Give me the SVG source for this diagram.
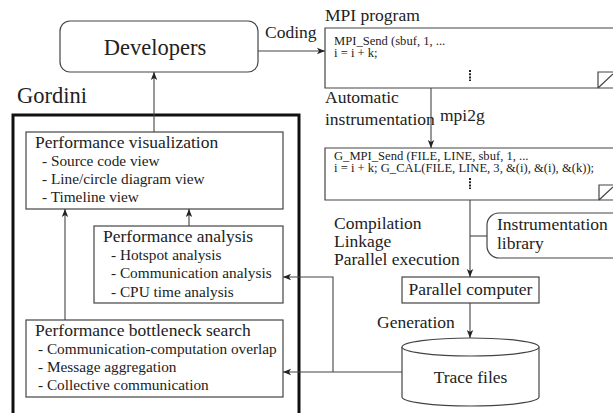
<svg xmlns="http://www.w3.org/2000/svg" width="613" height="413" viewBox="0 0 613 413">
  <defs>
    <style>
      .code { font-family: Liberation Serif, serif; font-size: 12.6px; fill: #222; }
      .title { font-family: Liberation Serif, serif; font-size: 17.5px; fill: #222; }
      .item { font-family: Liberation Serif, serif; font-size: 15.3px; fill: #222; }
      .box { fill: #fff; stroke: #444; stroke-width: 1.2; }
      .frame { fill: none; stroke: #111; stroke-width: 3; }
      .conn { fill: none; stroke: #444; stroke-width: 1.1; }
      .dots { stroke: #222; stroke-width: 2; stroke-dasharray: 2 1.2; }
    </style>
    <marker id="arrow" viewBox="0 0 10 10" refX="10" refY="5" markerWidth="8" markerHeight="8" markerUnits="userSpaceOnUse" orient="auto">
      <path d="M0,1 L10,5 L0,9 L2.5,5 Z" fill="#222"/>
    </marker>
  </defs>

  <!-- Developers -->
  <g id="developers">
    <rect class="box" x="60" y="21" width="198" height="51" rx="10" stroke-width="1.6"/>
    <text class="title" x="155" y="55" text-anchor="middle" style="font-size:22.5px">Developers</text>
  </g>

  <!-- Gordini frame -->
  <g id="gordini">
    <text class="title" x="17" y="103" style="font-size:22.5px">Gordini</text>
    <rect class="frame" x="13" y="115" width="286" height="310"/>
  </g>

  <g id="perf-visualization">
    <rect class="box" x="26" y="132" width="257" height="77"/>
    <text class="title" x="35" y="148">Performance visualization</text>
    <text class="item" x="42" y="166">- Source code view</text>
    <text class="item" x="42" y="184">- Line/circle diagram view</text>
    <text class="item" x="42" y="202">- Timeline view</text>
  </g>

  <g id="perf-analysis">
    <rect class="box" x="94" y="226" width="189" height="77"/>
    <text class="title" x="103" y="242">Performance analysis</text>
    <text class="item" x="111" y="260">- Hotspot analysis</text>
    <text class="item" x="111" y="278">- Communication analysis</text>
    <text class="item" x="111" y="297">- CPU time analysis</text>
  </g>

  <g id="bottleneck-search">
    <rect class="box" x="26" y="320" width="257" height="77"/>
    <text class="title" x="35" y="336">Performance bottleneck search</text>
    <text class="item" x="38" y="354">- Communication-computation overlap</text>
    <text class="item" x="38" y="372">- Message aggregation</text>
    <text class="item" x="38" y="390">- Collective communication</text>
  </g>

  <!-- MPI program -->
  <g id="mpi-program">
    <text class="title" x="325" y="21">MPI program</text>
    <path class="box" d="M325,28 H620 V88 H325 Z"/>
    <path class="box" d="M598,88 V72 H620 M598,88 L613,74"/>
    <text class="code" x="334" y="45">MPI_Send (sbuf, 1, ...</text>
    <text class="code" x="334" y="57">i = i + k;</text>
    <line class="dots" x1="470" y1="70" x2="470" y2="81"/>
  </g>

  <!-- Instrumented program -->
  <g id="instrumented-program">
    <path class="box" d="M325,148 H620 V200 H325 Z"/>
    <path class="box" d="M599,200 V185 H620 M599,200 L613,187"/>
    <text class="code" x="334" y="160">G_MPI_Send (FILE, LINE, sbuf, 1, ...</text>
    <text class="code" x="334" y="172">i = i + k; G_CAL(FILE, LINE, 3, &amp;(i), &amp;(i), &amp;(k));</text>
    <line class="dots" x1="470" y1="178" x2="470" y2="189"/>
  </g>

  <g id="instrumentation-library">
    <rect class="box" x="487" y="213" width="140" height="45" rx="12"/>
    <text class="title" x="497" y="230">Instrumentation</text>
    <text class="title" x="497" y="249">library</text>
  </g>

  <g id="parallel-computer">
    <rect class="box" x="402" y="277" width="137" height="26"/>
    <text class="title" x="470.5" y="295" text-anchor="middle">Parallel computer</text>
  </g>

  <g id="trace-files">
    <path class="box" d="M402,347 V397 A68.5,9 0 0 0 539,397 V347"/>
    <ellipse class="box" cx="470.5" cy="347" rx="68.5" ry="9"/>
    <text class="title" x="470.5" y="383" text-anchor="middle">Trace files</text>
  </g>

  <!-- Edge labels -->
  <g id="edge-labels">
    <text class="title" x="265" y="38">Coding</text>
    <text class="title" x="325" y="103">Automatic</text>
    <text class="title" x="325" y="125">instrumentation</text>
    <text class="title" x="440" y="121">mpi2g</text>
    <text class="title" x="334" y="229">Compilation</text>
    <text class="title" x="334" y="247">Linkage</text>
    <text class="title" x="334" y="265">Parallel execution</text>
    <text class="title" x="377" y="328">Generation</text>
  </g>

  <!-- Connectors -->
  <g id="connectors">
    <line class="conn" x1="258" y1="51" x2="325" y2="51" marker-end="url(#arrow)"/>
    <line class="conn" x1="154" y1="132" x2="154" y2="72" marker-end="url(#arrow)"/>
    <line class="conn" x1="65" y1="320" x2="65" y2="209" marker-end="url(#arrow)"/>
    <line class="conn" x1="189" y1="226" x2="189" y2="209" marker-end="url(#arrow)"/>
    <line class="conn" x1="431" y1="88" x2="431" y2="148" marker-end="url(#arrow)"/>
    <line class="conn" x1="470" y1="200" x2="470" y2="277" marker-end="url(#arrow)"/>
    <line class="conn" x1="470" y1="236" x2="487" y2="236"/>
    <line class="conn" x1="470" y1="303" x2="470" y2="338" marker-end="url(#arrow)"/>
    <line class="conn" x1="402" y1="372" x2="283" y2="372" marker-end="url(#arrow)"/>
    <polyline class="conn" points="333,372 333,277 283,277" marker-end="url(#arrow)"/>
  </g>
</svg>
